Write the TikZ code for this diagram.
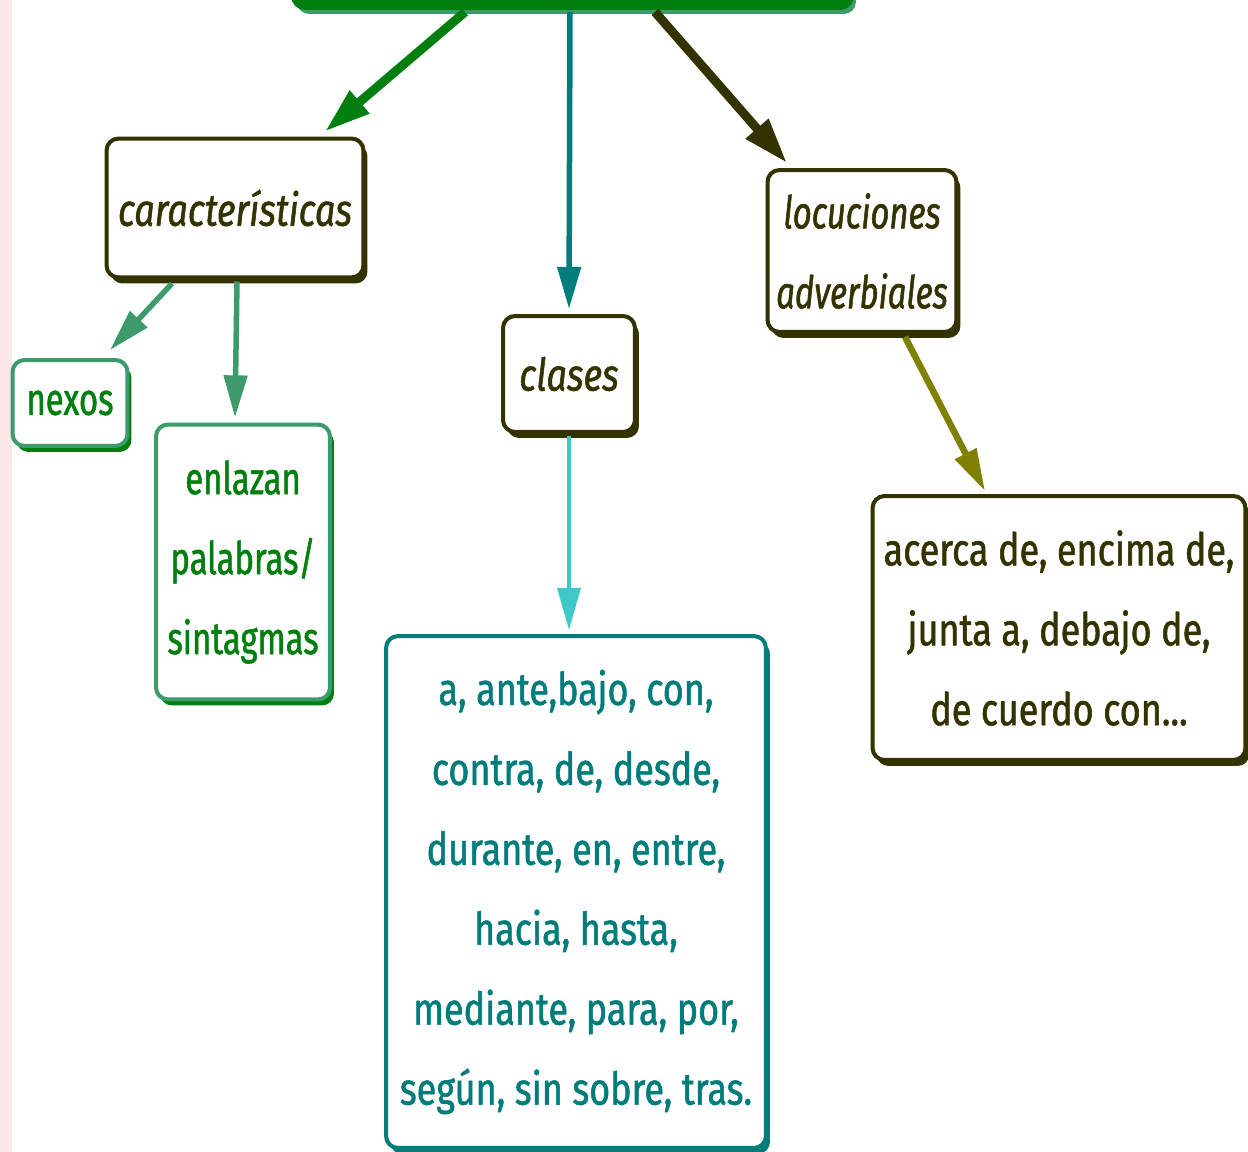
\documentclass[tikz,border=0pt]{standalone}
\usepackage{fontspec}
\setmainfont{Fira Sans}[FakeStretch=0.8,FakeBold=1.2]
\newfontfamily\estrecha{Fira Sans}[FakeStretch=0.73,FakeBold=1.2]
\usetikzlibrary{arrows.meta,shadows}
\definecolor{verde}{HTML}{007F0E}
\definecolor{oscuro}{HTML}{333300}
\definecolor{azulverde}{HTML}{007D7A}
\definecolor{cian}{HTML}{3EC8C8}
\definecolor{oliva}{HTML}{7F7F00}
\definecolor{marino}{HTML}{3D9A6A}
\definecolor{rosa}{HTML}{FCE8E8}
\begin{document}
\begin{tikzpicture}[x=0.02cm,y=-0.02cm,line join=round,
	caja/.style={draw=#1,line width=0.08cm,rounded corners=0.24cm,fill=white,inner sep=0pt,align=center,
		font=\fontsize{25.6pt}{45.5pt}\selectfont,
		general shadow={fill=#1,shadow xshift=0.08cm,shadow yshift=-0.12cm}},
	flecha/.style={draw=#1,line width=0.18cm,-{Triangle[length=26pt,width=16pt]}},
	fina/.style={draw=#1,line width=0.11cm,-{Triangle[length=24pt,width=13pt]}}]
	\clip (0,0) rectangle (1248,1152);
	\useasboundingbox (0,0) rectangle (1248,1152);
	\fill[rosa] (0,0) rectangle (12,1152);
	% nodos
	\node[caja=marino,fill=verde,draw=verde,minimum width=11.18cm,minimum height=1.16cm] (tema) at (572.5,-21) {};
	\node[caja=oscuro,text=oscuro,minimum width=5.14cm,minimum height=2.78cm] (carac) at (235,208) {\itshape características};
	\node[caja=oscuro,text=oscuro,minimum width=3.78cm,minimum height=3.24cm] (locu) at (862,251) {\estrecha\itshape locuciones\\\estrecha\itshape adverbiales};
	\node[caja=oscuro,text=oscuro,minimum width=2.64cm,minimum height=2.32cm] (clases) at (569,374) {\itshape clases};
	\node[caja=verde,draw=marino,text=verde,minimum width=2.30cm,minimum height=1.72cm] (nexos) at (70,403) {\estrecha nexos};
	\node[caja=verde,draw=marino,text=verde,minimum width=3.48cm,minimum height=5.50cm] (enlazan) at (243,562) {\estrecha enlazan\\\estrecha palabras/\\\estrecha sintagmas};
	\node[caja=azulverde,text=azulverde,minimum width=7.60cm,minimum height=10.24cm] (prep) at (576,892)
		{a, ante,bajo, con,\\contra, de, desde,\\durante, en, entre,\\hacia, hasta,\\mediante, para, por,\\según, sin sobre, tras.};
	\node[caja=oscuro,text=oscuro,minimum width=7.46cm,minimum height=5.28cm] (acerca) at (1059,628)
		{acerca de, encima de,\\junta a, debajo de,\\de cuerdo con...};
	% flechas
	\draw[flecha=verde] ([xshift=-2.15cm,yshift=-0.04cm]tema.south) -- ([xshift=1.8cm,yshift=0.1cm]carac.north);
	\draw[fina=azulverde] ([xshift=-0.05cm,yshift=-0.04cm]tema.south) -- ([yshift=0.1cm]clases.north);
	\draw[flecha=oscuro] ([xshift=1.65cm,yshift=-0.04cm]tema.south) -- ([xshift=-1.5cm,yshift=0.1cm]locu.north);
	\draw[fina=marino] ([xshift=-1.26cm,yshift=-0.08cm]carac.south) -- ([xshift=0.8cm,yshift=0.16cm]nexos.north);
	\draw[fina=marino] ([xshift=0.04cm,yshift=-0.04cm]carac.south) -- ([yshift=0.1cm]carac.south |- enlazan.north);
	\draw[fina=cian,line width=0.08cm] ([yshift=-0.04cm]clases.south) -- ([yshift=0.08cm]clases.south |- prep.north);
	\draw[fina=oliva,line width=0.13cm] ([xshift=0.86cm,yshift=-0.06cm]locu.south) -- ([xshift=-1.48cm,yshift=0.06cm]acerca.north);
\end{tikzpicture}
\end{document}
